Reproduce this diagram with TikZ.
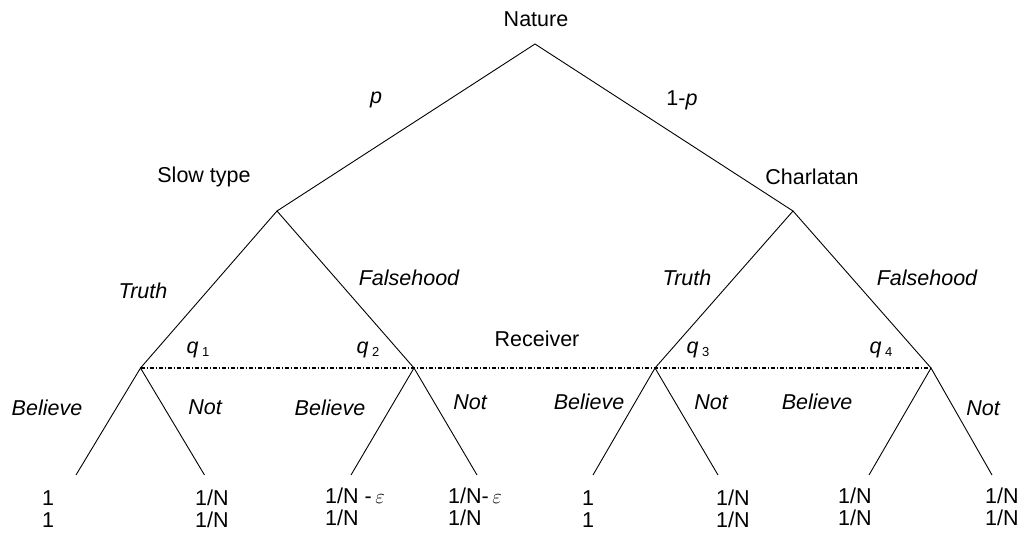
\documentclass[tikz,border=0pt]{standalone}
\usepackage{fontspec}
\setmainfont{Liberation Sans}
\begin{document}
\begin{tikzpicture}[x=1pt,y=-1pt,
  every node/.style={font=\fontsize{21.5}{25}\selectfont, inner sep=0pt},
  edge/.style={line width=0.9pt},
  info/.style={line width=1.1pt, dash pattern=on 4pt off 2pt on 1pt off 2pt},
  act/.style={font=\fontsize{21.5}{25}\selectfont\itshape},
  pay/.style={anchor=west}]
\useasboundingbox (0,0) rectangle (1025,535);
% tree points
\coordinate (root) at (535,44);
\coordinate (slow) at (277,211);
\coordinate (charl) at (793,211);
\coordinate (r1) at (140.5,368);
\coordinate (r2) at (414,368);
\coordinate (r3) at (655,368);
\coordinate (r4) at (931,368);
\coordinate (l1) at (76,475);
\coordinate (l2) at (204.5,475);
\coordinate (l3) at (351,475);
\coordinate (l4) at (477,475);
\coordinate (l5) at (593,475);
\coordinate (l6) at (718,475);
\coordinate (l7) at (869,475);
\coordinate (l8) at (992,475);
% edges
\draw[edge] (slow) -- (root) -- (charl);
\draw[edge] (r1) -- (slow) -- (r2);
\draw[edge] (r3) -- (charl) -- (r4);
\draw[edge] (l1) -- (r1) -- (l2);
\draw[edge] (l3) -- (r2) -- (l4);
\draw[edge] (l5) -- (r3) -- (l6);
\draw[edge] (l7) -- (r4) -- (l8);
\draw[info] (r1) -- (r2) -- (r3) -- (r4);
% labels
\node (tNature) at (536,19) {Nature};
\node[act] (tp) at (376,100) {p};
\node (t1p) at (682,100) {1-\textit{p}};
\node (tslow) at (204,177) {Slow type};
\node (tchar) at (812,177) {Charlatan};
\node[act] (tTr1) at (143,291) {Truth};
\node[act] (tFa1) at (409,278) {Falsehood};
\node[act] (tTr2) at (687,278) {Truth};
\node[act] (tFa2) at (927,278) {Falsehood};
\node (tq1) at (198,350) {\textit{q}\,\raisebox{-0.3ex}{\fontsize{13}{15}\selectfont 1}};
\node (tq2) at (368,350) {\textit{q}\,\raisebox{-0.3ex}{\fontsize{13}{15}\selectfont 2}};
\node (trec) at (537,339) {Receiver};
\node (tq3) at (698,350) {\textit{q}\,\raisebox{-0.3ex}{\fontsize{13}{15}\selectfont 3}};
\node (tq4) at (881,350) {\textit{q}\,\raisebox{-0.3ex}{\fontsize{13}{15}\selectfont 4}};
\node[act] (tB1) at (47,408) {Believe};
\node[act] (tN1) at (205,407) {Not};
\node[act] (tB2) at (330,408) {Believe};
\node[act] (tN2) at (470,402) {Not};
\node[act] (tB3) at (589,402) {Believe};
\node[act] (tN3) at (711,402) {Not};
\node[act] (tB4) at (817,402) {Believe};
\node[act] (tN4) at (983,408) {Not};
% payoffs
\node[pay] (p1a) at (42,498) {1};
\node[pay] (p1b) at (42,520) {1};
\node[pay] (p2a) at (195,498) {1/N};
\node[pay] (p2b) at (195,520) {1/N};
\node[pay] (p3a) at (325,496) {1/N -\,$\varepsilon$};
\node[pay] (p3b) at (325,518) {1/N};
\node[pay] (p4a) at (448,496) {1/N-\,$\varepsilon$};
\node[pay] (p4b) at (448,518) {1/N};
\node[pay] (p5a) at (582,498) {1};
\node[pay] (p5b) at (582,520) {1};
\node[pay] (p6a) at (716,498) {1/N};
\node[pay] (p6b) at (716,520) {1/N};
\node[pay] (p7a) at (838,496) {1/N};
\node[pay] (p7b) at (838,518) {1/N};
\node[pay] (p8a) at (985,496) {1/N};
\node[pay] (p8b) at (985,518) {1/N};
\end{tikzpicture}
\end{document}
